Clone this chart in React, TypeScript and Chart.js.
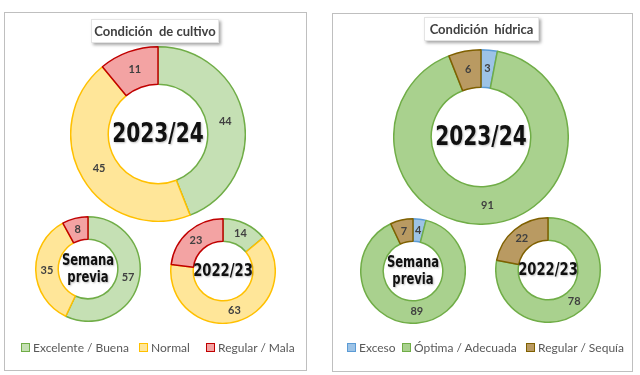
import React, { useEffect, useRef } from "react";
import { Chart, registerables } from "chart.js";

Chart.register(...registerables);

// ---- Data ----
const cultivoLabels = ["Excelente / Buena", "Normal", "Regular / Mala"];
const cultivoActual = [44, 45, 11];
const cultivoPrevia = [57, 35, 8];
const cultivoAnterior = [14, 63, 23];

const hidricaLabels = ["Exceso", "Óptima / Adecuada", "Regular / Sequía"];
const hidricaActual = [3, 91, 6];
const hidricaPrevia = [4, 89, 7];
const hidricaAnterior = [0, 78, 22];

const cultivoTitle = "Condición  de cultivo";
const hidricaTitle = "Condición  hídrica";
const centerActual = ["2023/24"];
const centerPrevia = ["Semana", "previa"];
const centerAnterior = ["2022/23"];

// ---- Styles ----
const cultivoFill = ["#C5E0B4", "#FFE699", "#F3A3A3"];
const cultivoBorder = ["#70AD47", "#FFC000", "#C00000"];
const hidricaFill = ["#9DC3E6", "#A9D18E", "#B99A62"];
const hidricaBorder = ["#5B9BD5", "#70AD47", "#7F6000"];

const FONT = "Lato, 'Noto Sans', sans-serif";
const CENTER_FONT = "'DejaVu Sans Condensed', 'DejaVu Sans', sans-serif";

const labelPlugin = {
  id: "arcLabels",
  afterDatasetsDraw(chart: any, _args: any, opts: any) {
    const ctx = chart.ctx;
    const meta = chart.getDatasetMeta(0);
    const values = chart.data.datasets[0].data;
    ctx.save();
    ctx.font = `bold ${opts.size || 11}px ${FONT}`;
    ctx.fillStyle = "#404040";
    ctx.textAlign = "center";
    ctx.textBaseline = "middle";
    meta.data.forEach((arc: any, i: number) => {
      if (!values[i]) return;
      const p = arc.tooltipPosition();
      ctx.fillText(String(values[i]), p.x, p.y);
    });
    ctx.restore();
  },
};

const centerPlugin = {
  id: "centerText",
  afterDraw(chart: any, _args: any, opts: any) {
    const lines: string[] = opts.lines || [];
    if (!lines.length) return;
    const ctx = chart.ctx;
    const arc = chart.getDatasetMeta(0).data[0];
    const cx = arc.x;
    const cy = arc.y;
    const size = opts.size || 20;
    const sx = opts.scaleX || 1;
    const lh = size * 1.12;
    ctx.save();
    ctx.translate(cx, cy);
    ctx.scale(sx, 1);
    ctx.font = `bold ${size}px ${CENTER_FONT}`;
    ctx.fillStyle = "#111111";
    ctx.textAlign = "center";
    ctx.textBaseline = "middle";
    ctx.shadowColor = "rgba(0,0,0,0.25)";
    ctx.shadowBlur = 2;
    ctx.shadowOffsetX = 1;
    ctx.shadowOffsetY = 1;
    const start = -((lines.length - 1) * lh) / 2;
    lines.forEach((l, i) => ctx.fillText(l, 0, start + i * lh + 1));
    ctx.restore();
  },
};

type DonutProps = {
  values: number[];
  labels: string[];
  fill: string[];
  border: string[];
  lines: string[];
  centerSize: number;
  cx: number;
  cy: number;
  r: number;
};

function Donut({ values, labels, fill, border, lines, centerSize, cx, cy, r }: DonutProps) {
  const ref = useRef<HTMLCanvasElement | null>(null);
  const size = 2 * r + 4;
  useEffect(() => {
    if (!ref.current) return;
    const chart = new Chart(ref.current, {
      type: "doughnut",
      data: {
        labels,
        datasets: [
          {
            data: values,
            backgroundColor: fill,
            borderColor: border,
            borderWidth: 1.5,
          },
        ],
      },
      options: {
        responsive: false,
        maintainAspectRatio: false,
        animation: false,
        cutout: "57%",
        layout: { padding: 0 },
        plugins: {
          legend: { display: false },
          tooltip: { enabled: false },
          arcLabels: { size: 11 },
          centerText: { lines, size: centerSize, scaleX: 0.86 },
        } as any,
      },
      plugins: [labelPlugin, centerPlugin],
    });
    return () => chart.destroy();
  }, []);
  return (
    <canvas
      ref={ref}
      width={size}
      height={size}
      style={{
        position: "absolute",
        left: cx - size / 2,
        top: cy - size / 2,
        width: size,
        height: size,
      }}
    />
  );
}

function Legend({ items, fill, border, left, top, gaps }: { items: string[]; fill: string[]; border: string[]; left: number; top: number; gaps: number[] }) {
  return (
    <>
      {items.map((t, i) => (
        <div
          key={t}
          style={{
            position: "absolute",
            left: left + gaps[i],
            top,
            display: "flex",
            alignItems: "center",
            font: `12px ${FONT}`,
            color: "#595959",
            whiteSpace: "nowrap",
            lineHeight: "15px",
          }}
        >
          <span
            style={{
              display: "inline-block",
              width: 7,
              height: 7,
              background: fill[i],
              border: `1px solid ${border[i]}`,
              marginRight: 3,
            }}
          />
          {t}
        </div>
      ))}
    </>
  );
}

function Title({ text, left, top, width }: { text: string; left: number; top: number; width: number }) {
  return (
    <div
      style={{
        position: "absolute",
        left,
        top,
        width,
        height: 22,
        background: "#ffffff",
        border: "1px solid #e4e4e4",
        boxShadow: "2px 2px 3px rgba(0,0,0,0.35)",
        font: `bold 13px ${FONT}`,
        color: "#404040",
        textAlign: "center",
        lineHeight: "22px",
        whiteSpace: "pre",
      }}
    >
      {text}
    </div>
  );
}

export default function App() {
  return (
    <div style={{ position: "absolute", left: 0, top: 0, width: 640, height: 375, background: "#ffffff", overflow: "hidden" }}>
      <div style={{ position: "absolute", left: 4, top: 12, width: 301, height: 357, border: "1px solid #bfbfbf" }} />
      <div style={{ position: "absolute", left: 332, top: 13, width: 299, height: 357, border: "1px solid #bfbfbf" }} />

      <Donut values={cultivoActual} labels={cultivoLabels} fill={cultivoFill} border={cultivoBorder} lines={centerActual} centerSize={26} cx={157.5} cy={134} r={86} />
      <Donut values={cultivoPrevia} labels={cultivoLabels} fill={cultivoFill} border={cultivoBorder} lines={centerPrevia} centerSize={15} cx={88} cy={269} r={51} />
      <Donut values={cultivoAnterior} labels={cultivoLabels} fill={cultivoFill} border={cultivoBorder} lines={centerAnterior} centerSize={17} cx={223} cy={271} r={51} />

      <Donut values={hidricaActual} labels={hidricaLabels} fill={hidricaFill} border={hidricaBorder} lines={centerActual} centerSize={26} cx={480.5} cy={137} r={86} />
      <Donut values={hidricaPrevia} labels={hidricaLabels} fill={hidricaFill} border={hidricaBorder} lines={centerPrevia} centerSize={15} cx={413} cy={271} r={51} />
      <Donut values={hidricaAnterior} labels={hidricaLabels} fill={hidricaFill} border={hidricaBorder} lines={centerAnterior} centerSize={17} cx={547.5} cy={270} r={51} />

      <Title text={cultivoTitle} left={91} top={19} width={126} />
      <Title text={hidricaTitle} left={424} top={17} width={113} />

      <Legend items={cultivoLabels} fill={cultivoFill} border={cultivoBorder} left={21} top={340} gaps={[0, 118, 185]} />
      <Legend items={hidricaLabels} fill={hidricaFill} border={hidricaBorder} left={347} top={340} gaps={[0, 55, 179]} />
    </div>
  );
}
